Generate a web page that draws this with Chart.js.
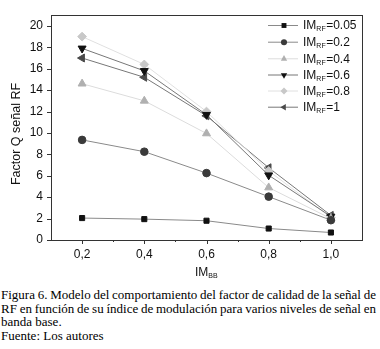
<!DOCTYPE html>
<html>
<head>
<meta charset="utf-8">
<script src="https://cdn.jsdelivr.net/npm/chart.js@4/dist/chart.umd.min.js"></script>
<style>
  html, body { margin: 0; padding: 0; background: #fff; }
  #wrap { position: relative; width: 380px; height: 349px; }
  #chart { position: absolute; left: 0; top: 0; }
  #caption {
    position: absolute; left: 1px; top: 288px; width: 375px;
    font-family: "Liberation Serif", "Times New Roman", serif;
    font-size: 13px; line-height: 13.6px; color: #000;
  }
  #caption div { white-space: nowrap; }
  #caption span { display: inline; }
</style>
</head>
<body>
<div id="wrap">
  <canvas id="chart" width="380" height="285"></canvas>
  <div id="caption">
    <div class="j"><span>Figura 6. Modelo del comportamiento del factor de calidad de la señal de</span></div>
    <div class="j"><span>RF en función de su índice de modulación para varios niveles de señal en</span></div>
    <div>banda base.</div>
    <div>Fuente: Los autores</div>
  </div>
</div>
<script>
// valores
const imBB = [0.2, 0.4, 0.6, 0.8, 1.0];
const seriesNames = ['0.05', '0.2', '0.4', '0.6', '0.8', '1'];
const q005 = [2.05, 1.95, 1.8, 1.07, 0.7];
const q02 = [9.35, 8.25, 6.25, 4.05, 1.85];
const q04 = [14.6, 13.0, 9.95, 4.9, 2.0];
const q06 = [17.9, 15.8, 11.7, 6.05, 2.2];
const q08 = [19.0, 16.4, 12.0, 6.45, 2.1];
const q1 = [17.0, 15.2, 11.6, 6.75, 2.3];
const xTicks = [0.2, 0.4, 0.6, 0.8, 1.0];
const xMinor = [0.3, 0.5, 0.7, 0.9];
const yTicks = [0, 2, 4, 6, 8, 10, 12, 14, 16, 18, 20];

const styles = [
    { point: 'rect', rot: 0, color: '#111', line: '#8a8a8a', r: 3.6 },
    { point: 'circle', rot: 0, color: '#3a3a3a', line: '#8a8a8a', r: 3.8 },
    { point: 'triangle', rot: 0, color: '#b0b0b0', line: '#dcdcdc', r: 4.6 },
    { point: 'triangle', rot: 180, color: '#111', line: '#777', r: 4.6 },
    { point: 'rectRot', rot: 0, color: '#c8c8c8', line: '#e0e0e0', r: 4.4 },
    { point: 'triangle', rot: -90, color: '#4a4a4a', line: '#777', r: 4.6 }
];
const allValues = [q005, q02, q04, q06, q08, q1];

// justificar las dos primeras lineas del pie a 375px
document.querySelectorAll('#caption .j').forEach(div => {
    const span = div.querySelector('span');
    const gaps = span.textContent.split(' ').length - 1;
    const w = span.getBoundingClientRect().width;
    div.style.wordSpacing = ((375 - w) / gaps) + 'px';
});

const datasets = allValues.map((vals, i) => ({
    label: 'IM_RF=' + seriesNames[i],
    data: imBB.map((x, j) => ({ x: x, y: vals[j] })),
    borderColor: styles[i].line,
    backgroundColor: styles[i].color,
    pointBorderColor: styles[i].color,
    pointBackgroundColor: styles[i].color,
    pointStyle: styles[i].point,
    pointRotation: styles[i].rot,
    pointRadius: styles[i].r,
    borderWidth: 1,
    tension: 0
}));

const fontSans = '"Liberation Sans", Arial, sans-serif';

function drawMarker(ctx, st, x, y, k) {
    const r = st.r * k;
    ctx.save();
    ctx.translate(x, y);
    ctx.rotate(st.rot * Math.PI / 180);
    ctx.fillStyle = st.color;
    ctx.beginPath();
    if (st.point === 'rect') {
        ctx.rect(-r * 0.85, -r * 0.85, r * 1.7, r * 1.7);
    } else if (st.point === 'circle') {
        ctx.arc(0, 0, r, 0, Math.PI * 2);
    } else if (st.point === 'rectRot') {
        ctx.moveTo(0, -r); ctx.lineTo(r, 0); ctx.lineTo(0, r); ctx.lineTo(-r, 0);
    } else {
        ctx.moveTo(0, -r);
        ctx.lineTo(r * 0.866, r * 0.5);
        ctx.lineTo(-r * 0.866, r * 0.5);
    }
    ctx.closePath();
    ctx.fill();
    ctx.restore();
}

// texto con subindice: IM + sub + resto
function subText(ctx, x, y, main, sub, rest) {
    ctx.font = '12px ' + fontSans;
    ctx.fillText(main, x, y);
    let w = ctx.measureText(main).width;
    ctx.font = '7px ' + fontSans;
    ctx.fillText(sub, x + w, y + 3.5);
    w += ctx.measureText(sub).width + 0.5;
    ctx.font = '12px ' + fontSans;
    if (rest) ctx.fillText(rest, x + w, y);
    return w + (rest ? ctx.measureText(rest).width : 0);
}

const framePlugin = {
    id: 'frame',
    afterDraw(chart) {
        const ctx = chart.ctx;
        const a = chart.chartArea;
        const xs = chart.scales.x, ys = chart.scales.y;
        ctx.save();
        ctx.strokeStyle = '#333';
        ctx.lineWidth = 1;
        ctx.strokeRect(Math.round(a.left) + 0.5, Math.round(a.top) + 0.5,
            Math.round(a.right - a.left), Math.round(a.bottom - a.top));
        ctx.beginPath();
        xTicks.forEach(v => {
            const px = Math.round(xs.getPixelForValue(v)) + 0.5;
            ctx.moveTo(px, a.bottom); ctx.lineTo(px, a.bottom + 4);
        });
        xMinor.forEach(v => {
            const px = Math.round(xs.getPixelForValue(v)) + 0.5;
            ctx.moveTo(px, a.bottom); ctx.lineTo(px, a.bottom + 2);
        });
        yTicks.forEach(v => {
            const py = Math.round(ys.getPixelForValue(v)) + 0.5;
            ctx.moveTo(a.left, py); ctx.lineTo(a.left - 4, py);
        });
        ctx.stroke();

        // leyenda
        ctx.textBaseline = 'middle';
        ctx.textAlign = 'left';
        const rowY = [25, 41.7, 58.3, 74.5, 90.5, 106.7];
        styles.forEach((st, i) => {
            const y = rowY[i];
            ctx.strokeStyle = st.line;
            ctx.beginPath();
            ctx.moveTo(268, y + 0.5); ctx.lineTo(298, y + 0.5);
            ctx.stroke();
            drawMarker(ctx, st, 284, y + 0.5, 0.8);
            ctx.fillStyle = '#111';
            subText(ctx, 303, y + 1, 'IM', 'RF', '=' + seriesNames[i]);
        });

        // titulo eje x
        ctx.fillStyle = '#111';
        subText(ctx, 195, 273, 'IM', 'BB', '');

        // titulo eje y
        ctx.save();
        ctx.translate(17, 134);
        ctx.rotate(-Math.PI / 2);
        ctx.textAlign = 'center';
        ctx.font = '12.5px ' + fontSans;
        ctx.fillText('Factor Q señal RF', 0, 0);
        ctx.restore();
        ctx.restore();
    }
};

new Chart(document.getElementById('chart').getContext('2d'), {
    type: 'line',
    data: { datasets: datasets },
    options: {
        responsive: false,
        animation: false,
        devicePixelRatio: 1,
        layout: { padding: { left: 0, right: 18, top: 10, bottom: 0 } },
        plugins: { legend: { display: false }, tooltip: { enabled: false } },
        scales: {
            x: {
                type: 'linear',
                min: 0.1,
                max: 1.1,
                afterBuildTicks: s => { s.ticks = xTicks.map(v => ({ value: v })); },
                afterFit: s => { s.height = 45; },
                grid: { display: false, drawTicks: false, tickLength: 0 },
                border: { display: false },
                ticks: {
                    padding: 7,
                    color: '#111',
                    font: { family: fontSans, size: 12 },
                    callback: v => v.toFixed(1).replace('.', ',')
                }
            },
            y: {
                min: 0,
                max: 21,
                afterBuildTicks: s => { s.ticks = yTicks.map(v => ({ value: v })); },
                afterFit: s => { s.width = 51; },
                grid: { display: false, drawTicks: false, tickLength: 0 },
                border: { display: false },
                ticks: {
                    padding: 8,
                    color: '#111',
                    font: { family: fontSans, size: 12 }
                }
            }
        }
    },
    plugins: [framePlugin]
});
</script>
</body>
</html>
